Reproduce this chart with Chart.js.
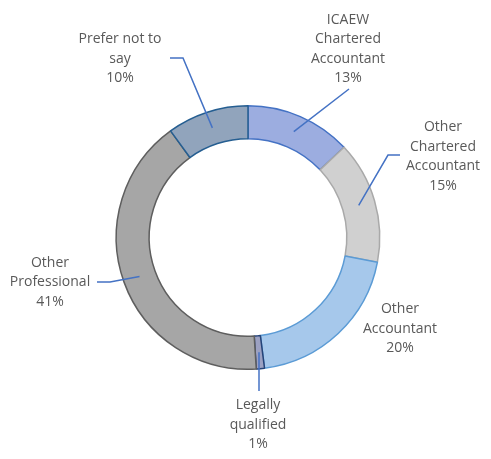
<!DOCTYPE html>
<html>
<head>
<meta charset="utf-8">
<script src="https://cdn.jsdelivr.net/npm/chart.js@4/dist/chart.umd.min.js"></script>
<style>
  html, body { margin: 0; padding: 0; background: #ffffff; }
  #wrap { width: 491px; height: 459px; position: relative; }
</style>
</head>
<body>
<div id="wrap"><canvas id="c" width="491" height="459"></canvas></div>
<script>
// ---- data ----
const categories = [
  ["ICAEW", "Chartered", "Accountant"],
  ["Other", "Chartered", "Accountant"],
  ["Other", "Accountant"],
  ["Legally", "qualified"],
  ["Other", "Professional"],
  ["Prefer not to", "say"]
];
const shares = [13, 15, 20, 1, 41, 10];

// ---- styles ----
const fills   = ["#9cade0", "#d0d0d0", "#a6c8eb", "#9ca1c2", "#a6a6a6", "#91a4bc"];
const borders = ["#4472c4", "#a9a9a9", "#5b9bd5", "#264478", "#5e5e5e", "#255e91"];

// label placement relative to the ring centre (layout only)
const labelLayout = [
  { c: [100, -188.5], leader: [[101, -148.5]] },
  { c: [195, -81],    leader: [[152, -82.5], [140, -82.5]] },
  { c: [152, 91.5],   leader: null },
  { c: [10, 187.5],   leader: [[11, 153.5]] },
  { c: [-198, 45],    leader: [[-151, 44.5], [-138, 44.5]] },
  { c: [-128, -178.5],leader: [[-78, -179.5], [-65, -179.5]] }
];

const labelPlugin = {
  id: 'outLabels',
  afterDatasetsDraw(chart) {
    const ctx = chart.ctx;
    const meta = chart.getDatasetMeta(0);
    const total = shares.reduce((a, b) => a + b, 0);
    ctx.save();
    meta.data.forEach((arc, i) => {
      const p = arc.getProps(['x', 'y', 'startAngle', 'endAngle', 'innerRadius', 'outerRadius'], true);
      const cx = p.x, cy = p.y;
      const L = labelLayout[i];
      // leader line
      if (L.leader) {
        const a = (p.startAngle + p.endAngle) / 2;
        const r = (p.innerRadius + p.outerRadius) / 2;
        const ex = cx + Math.cos(a) * r, ey = cy + Math.sin(a) * r;
        ctx.beginPath();
        ctx.strokeStyle = '#4472c4';
        ctx.lineWidth = 1.5;
        ctx.moveTo(cx + L.leader[0][0], cy + L.leader[0][1]);
        for (let k = 1; k < L.leader.length; k++) ctx.lineTo(cx + L.leader[k][0], cy + L.leader[k][1]);
        ctx.lineTo(i === 3 ? cx + L.leader[0][0] : ex, ey);
        ctx.stroke();
      }
      // text
      const lines = categories[i].concat([Math.round(shares[i] / total * 100) + '%']);
      const lh = 19.5;
      ctx.fillStyle = '#595959';
      ctx.font = '14px "Open Sans", sans-serif';
      ctx.textAlign = 'center';
      ctx.textBaseline = 'middle';
      const top = cy + L.c[1] - (lines.length - 1) * lh / 2;
      lines.forEach((t, k) => ctx.fillText(t, cx + L.c[0], top + k * lh));
    });
    ctx.restore();
  }
};

new Chart(document.getElementById('c'), {
  type: 'doughnut',
  data: {
    labels: categories.map(c => c.join(' ')),
    datasets: [{
      data: shares,
      backgroundColor: fills,
      borderColor: borders,
      borderWidth: 1.5,
      borderAlign: 'center'
    }]
  },
  options: {
    responsive: false,
    animation: false,
    cutout: '75%',
    layout: { padding: { left: 115.5, right: 110.5, top: 105, bottom: 89 } },
    plugins: { legend: { display: false }, tooltip: { enabled: false } }
  },
  plugins: [labelPlugin]
});
</script>
</body>
</html>
